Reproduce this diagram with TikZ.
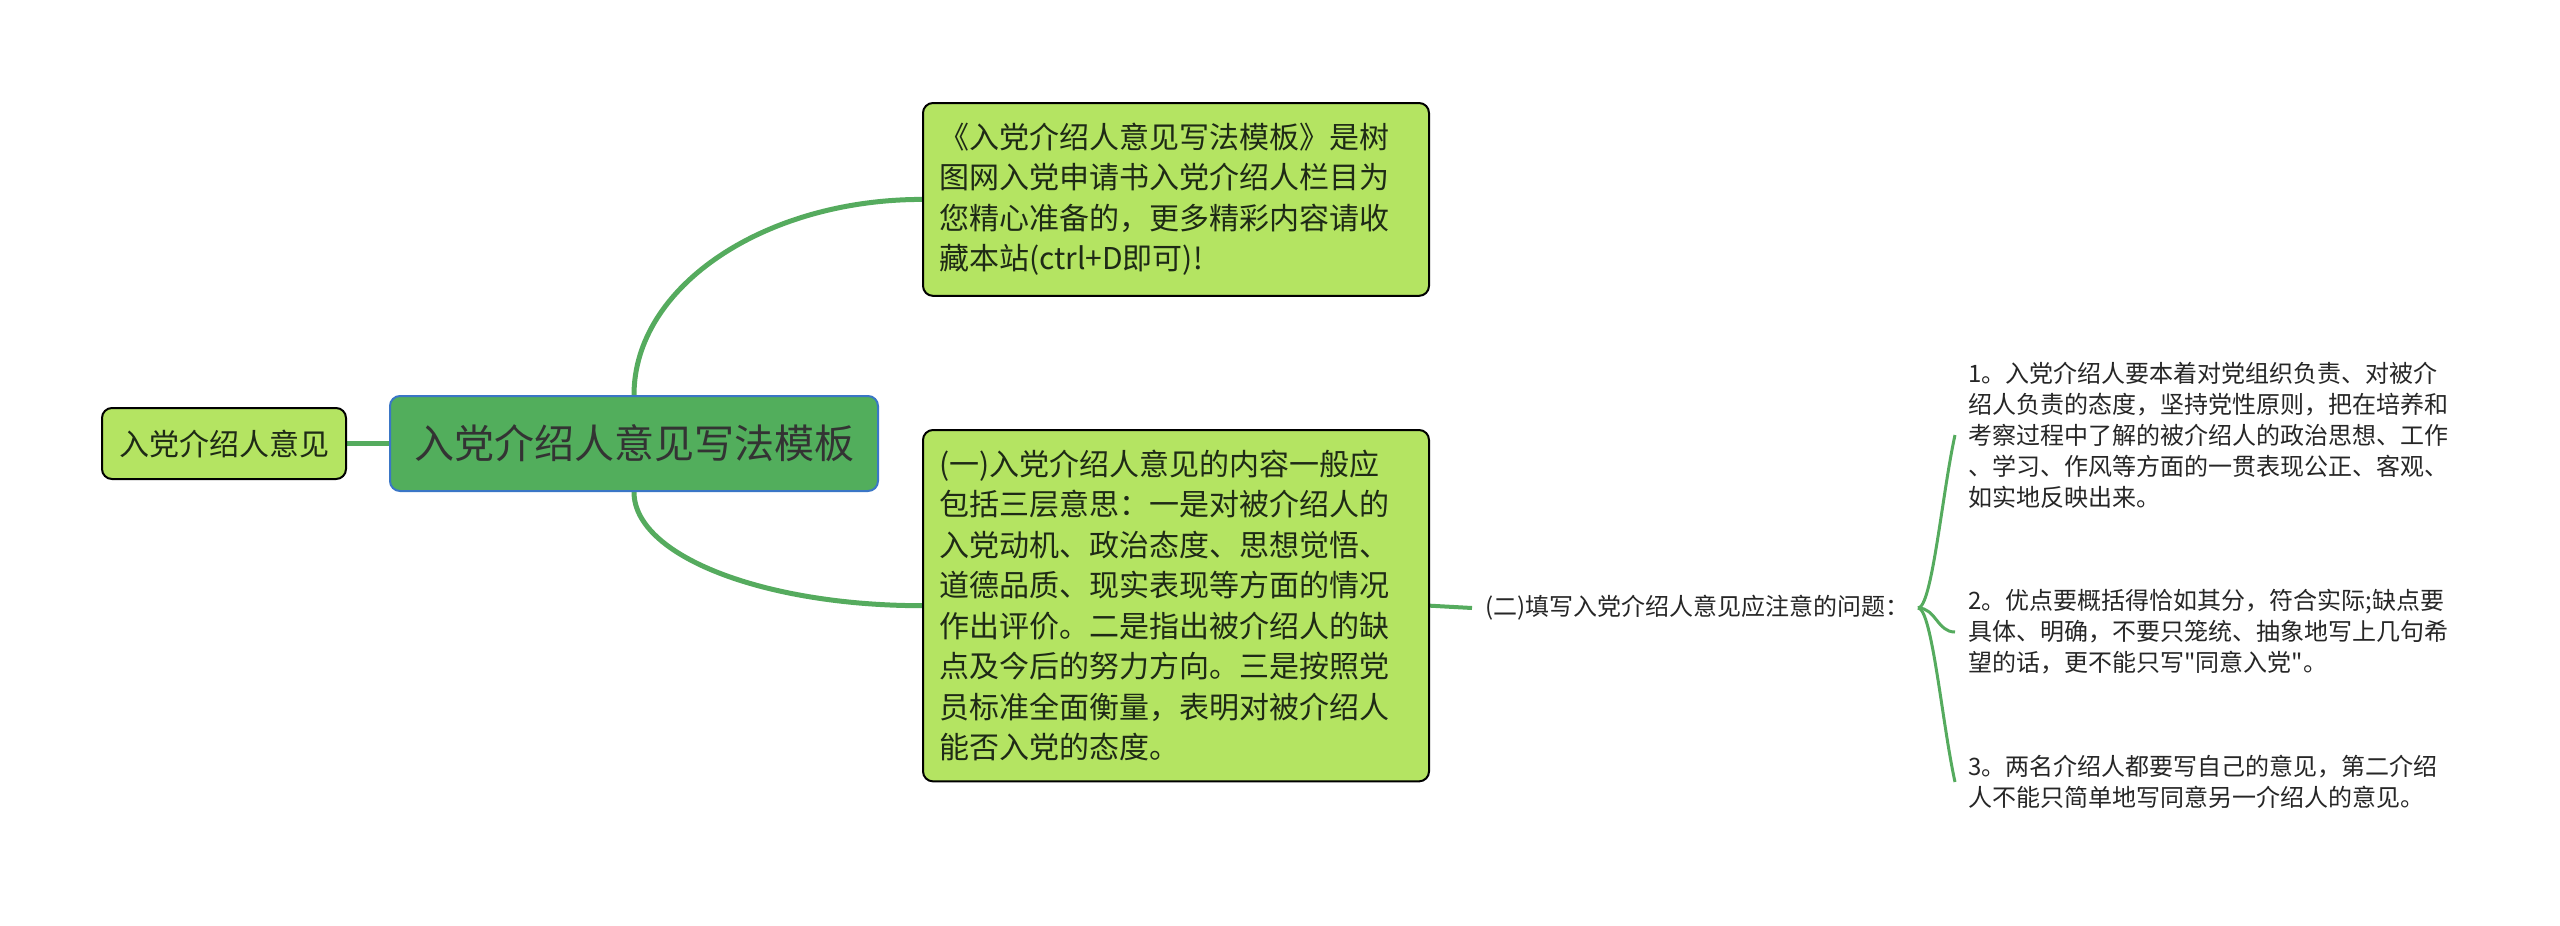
\documentclass[tikz,border=0pt]{standalone}
\usepackage{fontspec}
\setmainfont{Noto Sans CJK SC}
\usetikzlibrary{backgrounds}
\definecolor{boxgreen}{HTML}{B4E462}
\definecolor{rootgreen}{HTML}{52AE5C}
\definecolor{rootblue}{HTML}{3A76C6}
\definecolor{linkgreen}{HTML}{55AB5E}
\definecolor{inkdark}{HTML}{1E2A16}
\begin{document}
\begin{tikzpicture}[x=0.5pt, y=-0.5pt, line join=round, line cap=round,
		topic/.style={draw=black, line width=1pt, fill=boxgreen, rounded corners=5pt, text=inkdark, font=\fontsize{15}{20.25}\selectfont},
		note/.style={topic, anchor=north west, align=left, text width=237pt, inner xsep=8pt, inner ysep=10pt},
		link/.style={draw=linkgreen, line width=2.5pt},
		twig/.style={draw=linkgreen, line width=1.5pt},
		item/.style={anchor=west, align=left, inner xsep=6.5pt, text=black!85, font=\fontsize{12}{15.5}\selectfont}]
	\useasboundingbox (0,0) rectangle (2560,926);
	% centre and first level
	\node[topic, draw=rootblue, fill=rootgreen, minimum width=244pt, minimum height=47.5pt, text=black!80, font=\fontsize{20}{24}\selectfont] (root) at (634,443.5) {入党介绍人意见写法模板};
	\node[topic, minimum width=122pt, minimum height=35.5pt] (side) at (224,443.5) {入党介绍人意见};
	\node[note] (intro) at (922,102) {《入党介绍人意见写法模板》是树\\图网入党申请书入党介绍人栏目为\\您精心准备的，更多精彩内容请收\\藏本站(ctrl+D即可)!};
	\node[note] (content) at (922,429) {(一)入党介绍人意见的内容一般应\\包括三层意思：一是对被介绍人的\\入党动机、政治态度、思想觉悟、\\道德品质、现实表现等方面的情况\\作出评价。二是指出被介绍人的缺\\点及今后的努力方向。三是按照党\\员标准全面衡量，表明对被介绍人\\能否入党的态度。};
	% second level
	\node[anchor=west, inner xsep=6.5pt, text=black!85, font=\fontsize{12}{15.5}\selectfont] (notice) at (1472,608) {(二)填写入党介绍人意见应注意的问题：};
	\coordinate (brace) at (1918,608);
	\node[item] (p1) at (1955,435) {1。入党介绍人要本着对党组织负责、对被介\\绍人负责的态度，坚持党性原则，把在培养和\\考察过程中了解的被介绍人的政治思想、工作\\、学习、作风等方面的一贯表现公正、客观、\\如实地反映出来。};
	\node[item] (p2) at (1955,632) {2。优点要概括得恰如其分，符合实际;缺点要\\具体、明确，不要只笼统、抽象地写上几句希\\望的话，更不能只写\textquotedbl 同意入党\textquotedbl 。};
	\node[item] (p3) at (1955,782) {3。两名介绍人都要写自己的意见，第二介绍\\人不能只简单地写同意另一介绍人的意见。};
	\begin{scope}[on background layer]
		\draw[link] (root.west) -- (side.east);
		\draw[link] (root.north) .. controls +(0,-109) and +(-157,0) .. (intro.west);
		\draw[link] (root.south) .. controls +(0,64) and +(-158,0) .. (content.west);
		\draw[link, line width=2pt] (content.east) -- (notice.west);
		\draw[twig] (brace) .. controls +(14,0) and +(-13,59) .. (p1.west);
		\draw[twig] (brace) .. controls +(18,0) and +(-18,0) .. (p2.west);
		\draw[twig] (brace) .. controls +(14,0) and +(-13,-59) .. (p3.west);
	\end{scope}
\end{tikzpicture}
\end{document}
